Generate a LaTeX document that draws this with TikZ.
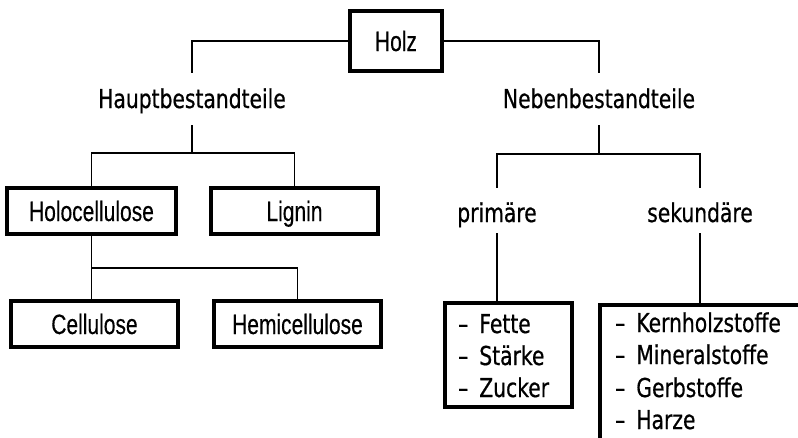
\documentclass[tikz,border=0pt]{standalone}
\usepackage{fontspec}
\newfontfamily\rfont[FakeStretch=0.78,FakeBold=0.6]{DejaVu Sans}
\newfontfamily\afont[FakeStretch=0.75,FakeBold=0.3]{Liberation Sans}
\begin{document}
\begin{tikzpicture}[x=1pt,y=-1pt,
  conn/.style={line width=1.4pt, draw=black},
  frame/.style={line width=3.2pt, draw=black},
  thickbox/.style={draw, line width=3.2pt, inner sep=0pt, text height=20pt, text depth=0pt,
    font=\afont\fontsize{28}{34}\selectfont},
  lbl/.style={inner sep=0pt, text height=20pt, text depth=0pt, anchor=base,
    font=\rfont\fontsize{26}{32}\selectfont},
  item/.style={inner sep=0pt, anchor=base west, font=\rfont\fontsize{26}{32}\selectfont}]
\useasboundingbox (0,0) rectangle (798,437);
% boxes
\node[thickbox, minimum width=92pt, minimum height=60pt] (holz) at (396,41) {Holz};
\node[thickbox, minimum width=169pt, minimum height=46pt] (holo) at (91.5,211) {Holocellulose};
\node[thickbox, minimum width=167pt, minimum height=46pt] (lignin) at (294.5,211) {Lignin};
\node[thickbox, minimum width=167pt, minimum height=46pt] (cell) at (94.5,324) {Cellulose};
\node[thickbox, minimum width=167pt, minimum height=46pt] (hemi) at (297.5,324) {Hemicellulose};
\node[thickbox, minimum width=127pt, minimum height=104pt] (pbox) at (508.5,355) {};
% labels
\node[lbl] (haupt) at (192,108) {Hauptbestandteile};
\node[lbl] (neben) at (599,108) {Nebenbestandteile};
\node[lbl] (prim) at (497,222) {primäre};
\node[lbl] (sek) at (700,222) {sekundäre};
% list items
\node[item] (f1) at (458,333) {–\hspace{11pt}Fette};
\node[item] (f2) at (458,365) {–\hspace{11pt}Stärke};
\node[item] (f3) at (458,397) {–\hspace{11pt}Zucker};
\node[item] (k1) at (615,332) {–\hspace{11pt}Kernholzstoffe};
\node[item] (k2) at (615,364) {–\hspace{11pt}Mineralstoffe};
\node[item] (k3) at (615,397) {–\hspace{11pt}Gerbstoffe};
\node[item] (k4) at (615,429) {–\hspace{11pt}Harze};
% open frame of the secondary list
\coordinate (sa) at (804,305);
\coordinate (sc) at (600,305);
\coordinate (sb) at (600,444);
\coordinate (stop) at (700,305);
\begin{scope}
\clip (0,0) rectangle (798,437);
\draw[frame] (sa) -- (sc) -- (sb);
\end{scope}
% connectors
\draw[conn] (holz.west) -| ([yshift=15pt]haupt.north);
\draw[conn] (holz.east) -| ([yshift=15pt]neben.north);
\coordinate (hj) at (192,153);
\draw[conn] ([yshift=-17pt]haupt.south) -- (hj);
\draw[conn] (holo.north) |- (hj) -| (lignin.north);
\coordinate (hj2) at (92,268);
\draw[conn] (holo.south) -- (holo.south |- cell.north);
\draw[conn] (holo.south |- hj2) -| (hemi.north);
\coordinate (nj) at (599,154);
\draw[conn] ([yshift=-17pt]neben.south) -- (nj);
\draw[conn] ([yshift=14pt]prim.north) |- (nj) -| ([yshift=14pt]sek.north);
\draw[conn] ([yshift=-11pt]prim.south) -- (prim.south |- pbox.north);
\draw[conn] ([yshift=-11pt]sek.south) -- (stop);
\end{tikzpicture}
\end{document}
